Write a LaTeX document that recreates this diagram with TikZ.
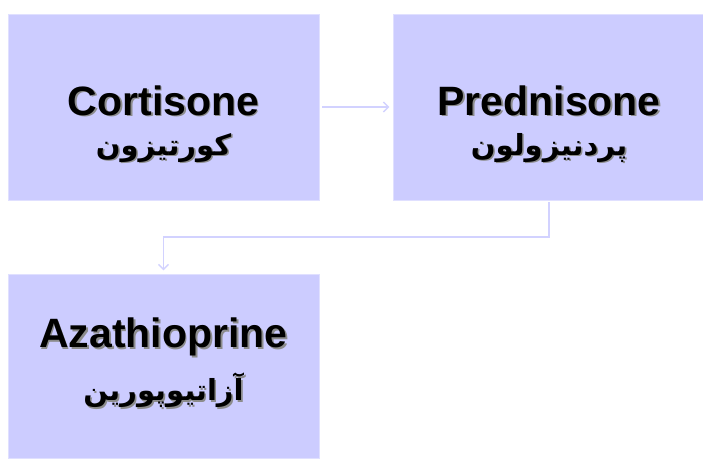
\documentclass[tikz,border=0pt]{standalone}
\usepackage{fontspec}
\setmainfont{Liberation Sans}
\newfontfamily\farsi[Script=Arabic]{DejaVu Sans}
\TeXXeTstate=1
\usetikzlibrary{positioning,arrows.meta}
\definecolor{boxblue}{HTML}{CCCCFF}
\definecolor{linkblue}{HTML}{D2D2FF}
% text with a soft drop shadow
\newcommand{\shtext}[1]{\rlap{\kern1.6pt\raisebox{-1.6pt}{\color{black!45}#1}}#1}
% #3 = top strut, #4 = extra gap, #5 = bottom strut
\newcommand{\drug}[5]{\rule{0pt}{#3}\shtext{\bfseries\fontsize{41}{46}\selectfont #1}\\[#4]
  \rule[-#5]{0pt}{#5}\shtext{\farsi\bfseries\fontsize{29}{34}\selectfont\beginR #2\endR}}
\tikzset{
  drugbox/.style={fill=boxblue, draw=boxblue!60!white, line width=0.6pt,
    minimum width=311pt, minimum height=186pt, inner sep=0pt,
    align=center, font=\fontsize{28}{40}\selectfont},
  link/.style={draw=linkblue, line width=1.8pt,
    -{Straight Barb[length=5pt,width=10pt,line width=1.4pt]}}
}
\begin{document}
\begin{tikzpicture}
\useasboundingbox (0,0) rectangle (703pt,-466pt);
\node[drugbox] (cort) at (163.5pt,-107pt) {\drug{Cortisone}{کورتیزون}{70pt}{0pt}{14pt}};
\node[drugbox, right=74pt of cort] (pred) {\drug{Prednisone}{پردنیزولون}{70pt}{0pt}{14pt}};
\node[drugbox, below=74pt of cort, minimum height=184pt] (azat) {\drug{Azathioprine}{آزاتیوپورین}{32pt}{13pt}{17pt}};
\draw[link] ([xshift=3pt]cort.east) -- ([xshift=-4pt]pred.west);
\draw[link] ([yshift=-2pt]pred.south) -- ++(0,-35pt) -| ([yshift=4pt]azat.north);
\end{tikzpicture}
\end{document}
